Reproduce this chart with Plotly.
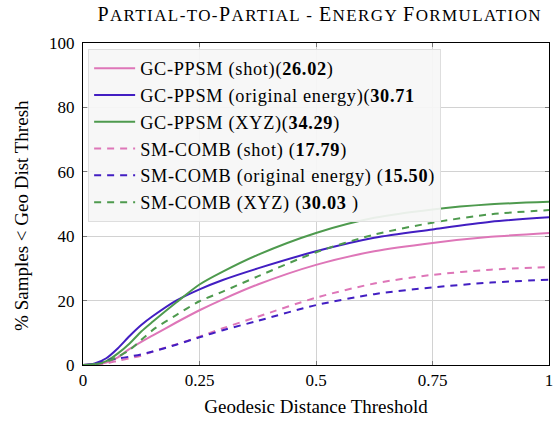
import plotly.graph_objects as go

thresholds = [0, 0.025, 0.05, 0.075, 0.1, 0.125, 0.15, 0.2, 0.25, 0.3, 0.375, 0.5, 0.625, 0.75, 0.875, 1.0]

gc_shot = [0, 0.2, 0.8, 2.4, 5.0, 7.2, 9.2, 13.2, 17.0, 20.4, 25.0, 31.1, 35.3, 37.9, 39.8, 41.0]
gc_orig = [0, 0.5, 2.1, 5.2, 9.0, 12.4, 15.2, 20.0, 23.5, 26.4, 30.0, 35.3, 39.5, 42.1, 44.5, 45.9]
gc_xyz = [0, 0.3, 1.2, 3.6, 6.7, 10.4, 13.5, 19.4, 25.0, 29.0, 34.2, 41.0, 45.7, 48.3, 49.9, 50.7]
sm_shot = [0, 0.1, 0.5, 1.3, 2.1, 2.9, 4.2, 6.4, 8.8, 11.4, 15.0, 20.9, 25.3, 28.0, 29.6, 30.4]
sm_orig = [0, 0.2, 1.4, 2.0, 2.6, 3.3, 4.2, 6.3, 8.6, 10.8, 13.7, 18.6, 22.0, 24.1, 25.6, 26.5]
sm_xyz = [0, 0.2, 1.0, 2.6, 4.7, 7.8, 10.9, 15.5, 19.8, 22.8, 27.5, 35.0, 40.5, 44.2, 46.8, 48.1]

names = [
    "GC-PPSM (shot)(<b>26.02</b>)",
    "GC-PPSM (original energy)(<b>30.71</b>",
    "GC-PPSM (XYZ)(<b>34.29</b>)",
    "SM-COMB (shot) (<b>17.79</b>)",
    "SM-COMB (original energy) (<b>15.50</b>)",
    "SM-COMB (XYZ) (<b>30.03</b> )",
]
series = [gc_shot, gc_orig, gc_xyz, sm_shot, sm_orig, sm_xyz]

PINK = "rgb(222,118,184)"
BLUE = "rgb(66,30,194)"
GREEN = "rgb(78,154,78)"
colors = [PINK, BLUE, GREEN, PINK, BLUE, GREEN]
dashes = ["solid", "solid", "solid", "7px,6px", "7px,6px", "7px,6px"]

FONT = "Liberation Serif, Times New Roman, Times, serif"

title_text = "Partial-to-Partial - Energy Formulation"
y_title = "% Samples < Geo Dist Thresh"


def small_caps(text, small=17, spacing=1.4):
    out = []
    buf = ""
    for ch in text:
        if ch.isupper():
            if buf:
                out.append('<span style="font-size:%dpx">%s</span>' % (small, buf.upper()))
                buf = ""
            out.append(ch)
        else:
            buf += ch
    if buf:
        out.append('<span style="font-size:%dpx">%s</span>' % (small, buf.upper()))
    return '<span style="letter-spacing:%.1fpx">' % spacing + "".join(out) + "</span>"


fig = go.Figure()
for name, ys, c, d in zip(names, series, colors, dashes):
    fig.add_trace(go.Scatter(
        x=thresholds, y=ys, mode="lines",
        name='<span style="letter-spacing:0.7px">' + name + "</span>",
        line=dict(color=c, width=2, dash=d, shape="spline", smoothing=0.8),
    ))

fig.update_layout(
    width=557, height=422,
    margin=dict(l=83, r=8, t=43, b=57),
    paper_bgcolor="white", plot_bgcolor="white",
    font=dict(family=FONT, size=17, color="black"),
    title=dict(
        text=small_caps(title_text),
        font=dict(family=FONT, size=20, color="black"),
        x=0.574, xanchor="center", y=0.968, yanchor="middle",
    ),
    showlegend=True,
    legend=dict(
        x=0.011, y=0.982, xanchor="left", yanchor="top",
        bgcolor="rgba(246,246,246,0.92)", bordercolor="rgb(222,222,222)", borderwidth=1,
        font=dict(family=FONT, size=18.3, color="black"),
        itemwidth=41,
    ),
    annotations=[dict(
        text=y_title, textangle=-90, xref="paper", yref="paper",
        x=-0.131, y=0.466, xanchor="center", yanchor="middle", showarrow=False,
        font=dict(family=FONT, size=19, color="black"),
    )],
)
fig.update_xaxes(
    range=[0, 1], tickvals=[0, 0.25, 0.5, 0.75, 1], ticktext=["0", "0.25", "0.5", "0.75", "1"],
    showgrid=True, gridcolor="rgb(210,210,210)", gridwidth=1,
    showline=True, linecolor="black", linewidth=1, mirror="ticks",
    ticks="inside", ticklen=4, tickcolor="rgb(120,120,120)",
    zeroline=False, automargin=False,
    title=dict(text="Geodesic Distance Threshold", font=dict(family=FONT, size=19), standoff=10),
)
fig.update_yaxes(
    range=[0, 100], tickvals=[0, 20, 40, 60, 80, 100],
    showgrid=True, gridcolor="rgb(210,210,210)", gridwidth=1,
    showline=True, linecolor="black", linewidth=1, mirror="ticks",
    ticks="inside", ticklen=4, tickcolor="rgb(120,120,120)",
    zeroline=False, automargin=False, ticklabelstandoff=4,
)

fig.write_html("out.html", config={"displayModeBar": False},
               post_script="document.body.style.margin='0';")
